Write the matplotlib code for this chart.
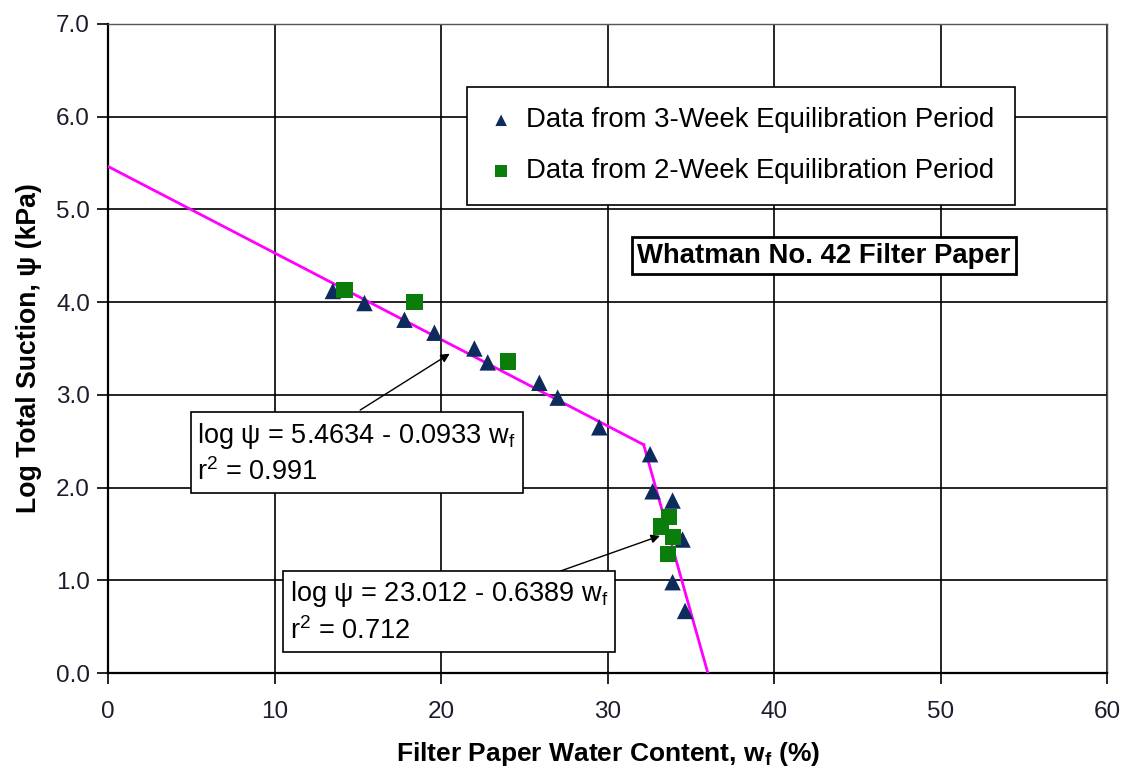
import matplotlib
matplotlib.use("Agg")
import matplotlib.pyplot as plt
import numpy as np

plt.rcParams['font.family'] = ['Liberation Sans', 'DejaVu Sans']
plt.rcParams['mathtext.fontset'] = 'custom'
plt.rcParams['mathtext.rm'] = 'Liberation Sans'

# Filter paper water content (%) and log total suction (kPa)
wf_3week = [13.5, 15.4, 17.8, 19.6, 22.0, 22.8, 25.9, 27.0, 29.5,
            32.55, 32.7, 33.9, 34.5, 33.9, 34.65]
logpsi_3week = [4.12, 3.99, 3.81, 3.67, 3.50, 3.35, 3.13, 2.97, 2.65,
                2.36, 1.96, 1.86, 1.44, 0.98, 0.67]

wf_2week = [14.2, 18.4, 24.0, 33.7, 33.2, 33.9, 33.6]
logpsi_2week = [4.13, 4.00, 3.36, 1.68, 1.58, 1.47, 1.28]

# Bilinear calibration fit: log psi = a - b * wf
fit_high = (5.4634, 0.0933)
fit_low = (23.012, 0.6389)
r2_high = 0.991
r2_low = 0.712

x_ticks = [0, 10, 20, 30, 40, 50, 60]
y_ticks = [0.0, 1.0, 2.0, 3.0, 4.0, 5.0, 6.0, 7.0]

fig = plt.figure(figsize=(11.31, 7.71), dpi=100)
ax = fig.add_axes([0.0955, 0.127, 0.8835, 0.842])

ax.set_xlim(0, 60)
ax.set_ylim(0, 7)
ax.set_xticks(x_ticks)
ax.set_yticks(y_ticks)
ax.set_yticklabels([f"{v:.1f}" for v in y_ticks])
ax.grid(True, color='black', linewidth=1.2)
ax.set_axisbelow(True)
for side in ['left', 'bottom']:
    ax.spines[side].set_linewidth(1.6)
for side in ['top', 'right']:
    ax.spines[side].set_linewidth(1.0)
    ax.spines[side].set_color('#555555')
ax.tick_params(direction='out', length=8, width=1.2, labelsize=17.5, pad=5,
               labelcolor='#1c1c2c')
ax.tick_params(axis='x', pad=12)

# Fitted line segments meeting at the breakpoint
a1, b1 = fit_high
a2, b2 = fit_low
w_break = (a2 - a1) / (b2 - b1)
w_end = a2 / b2
w1 = np.array([0.0, w_break])
w2 = np.array([w_break, w_end])
ax.plot(w1, a1 - b1 * w1, color='#FF00FF', linewidth=2.0, zorder=3)
ax.plot(w2, a2 - b2 * w2, color='#FF00FF', linewidth=2.0, zorder=3)

ax.scatter(wf_3week, logpsi_3week, marker='^', s=140, color='#0D2B5C',
           edgecolors='none', zorder=4,
           label='Data from 3-Week Equilibration Period')
ax.scatter(wf_2week, logpsi_2week, marker='s', s=135, color='#0A7D0A',
           edgecolors='none', zorder=4,
           label='Data from 2-Week Equilibration Period')

leg = ax.legend(loc='upper left', bbox_to_anchor=(0.359, 0.903),
                fontsize=19.8, frameon=True, fancybox=False, framealpha=1,
                edgecolor='black', markerscale=0.7, handlelength=1.0,
                handletextpad=0.4, labelspacing=0.9, borderpad=0.75,
                borderaxespad=0)
leg.get_frame().set_linewidth(1.2)

ax.set_xlabel(r'Filter Paper Water Content, w$_\mathregular{f}$ (%)',
              fontsize=19, fontweight='bold', labelpad=12)
ax.set_ylabel(r'Log Total Suction, ψ (kPa)', fontsize=19.2,
              fontweight='bold', labelpad=10)

ax.text(0.7167, 0.643, 'Whatman No. 42 Filter Paper', transform=ax.transAxes,
        fontsize=19.8, fontweight='bold', ha='center', va='center',
        bbox=dict(boxstyle='square,pad=0.2', facecolor='white',
                  edgecolor='black', linewidth=2.0), zorder=6)

box_style = dict(boxstyle='square,pad=0.25', facecolor='white',
                 edgecolor='black', linewidth=1.2)

eq1 = (f'log ψ = {a1:.4f} - {b1:.4f} w$_\\mathregular{{f}}$\n'
       f'r$^\\mathregular{{2}}$ = {r2_high:.3f}')
eq2 = (f'log ψ = {a2:.3f} - {b2:.4f} w$_\\mathregular{{f}}$\n'
       f'r$^\\mathregular{{2}}$ = {r2_low:.3f}')

ax.annotate('', xy=(20.66, 3.46), xytext=(15.0, 2.82),
            arrowprops=dict(arrowstyle='-|>', color='black', lw=1.0,
                            mutation_scale=13), zorder=5)
ax.annotate('', xy=(33.3, 1.49), xytext=(27.0, 1.09),
            arrowprops=dict(arrowstyle='-|>', color='black', lw=1.0,
                            mutation_scale=13), zorder=5)

ax.text(0.0895, 0.338, eq1, transform=ax.transAxes, fontsize=19.5,
        ha='left', va='center', linespacing=1.35, bbox=box_style, zorder=6)
ax.text(0.182, 0.094, eq2, transform=ax.transAxes, fontsize=19.5,
        ha='left', va='center', linespacing=1.35, bbox=box_style, zorder=6)

fig.savefig('out.png', dpi=100)
